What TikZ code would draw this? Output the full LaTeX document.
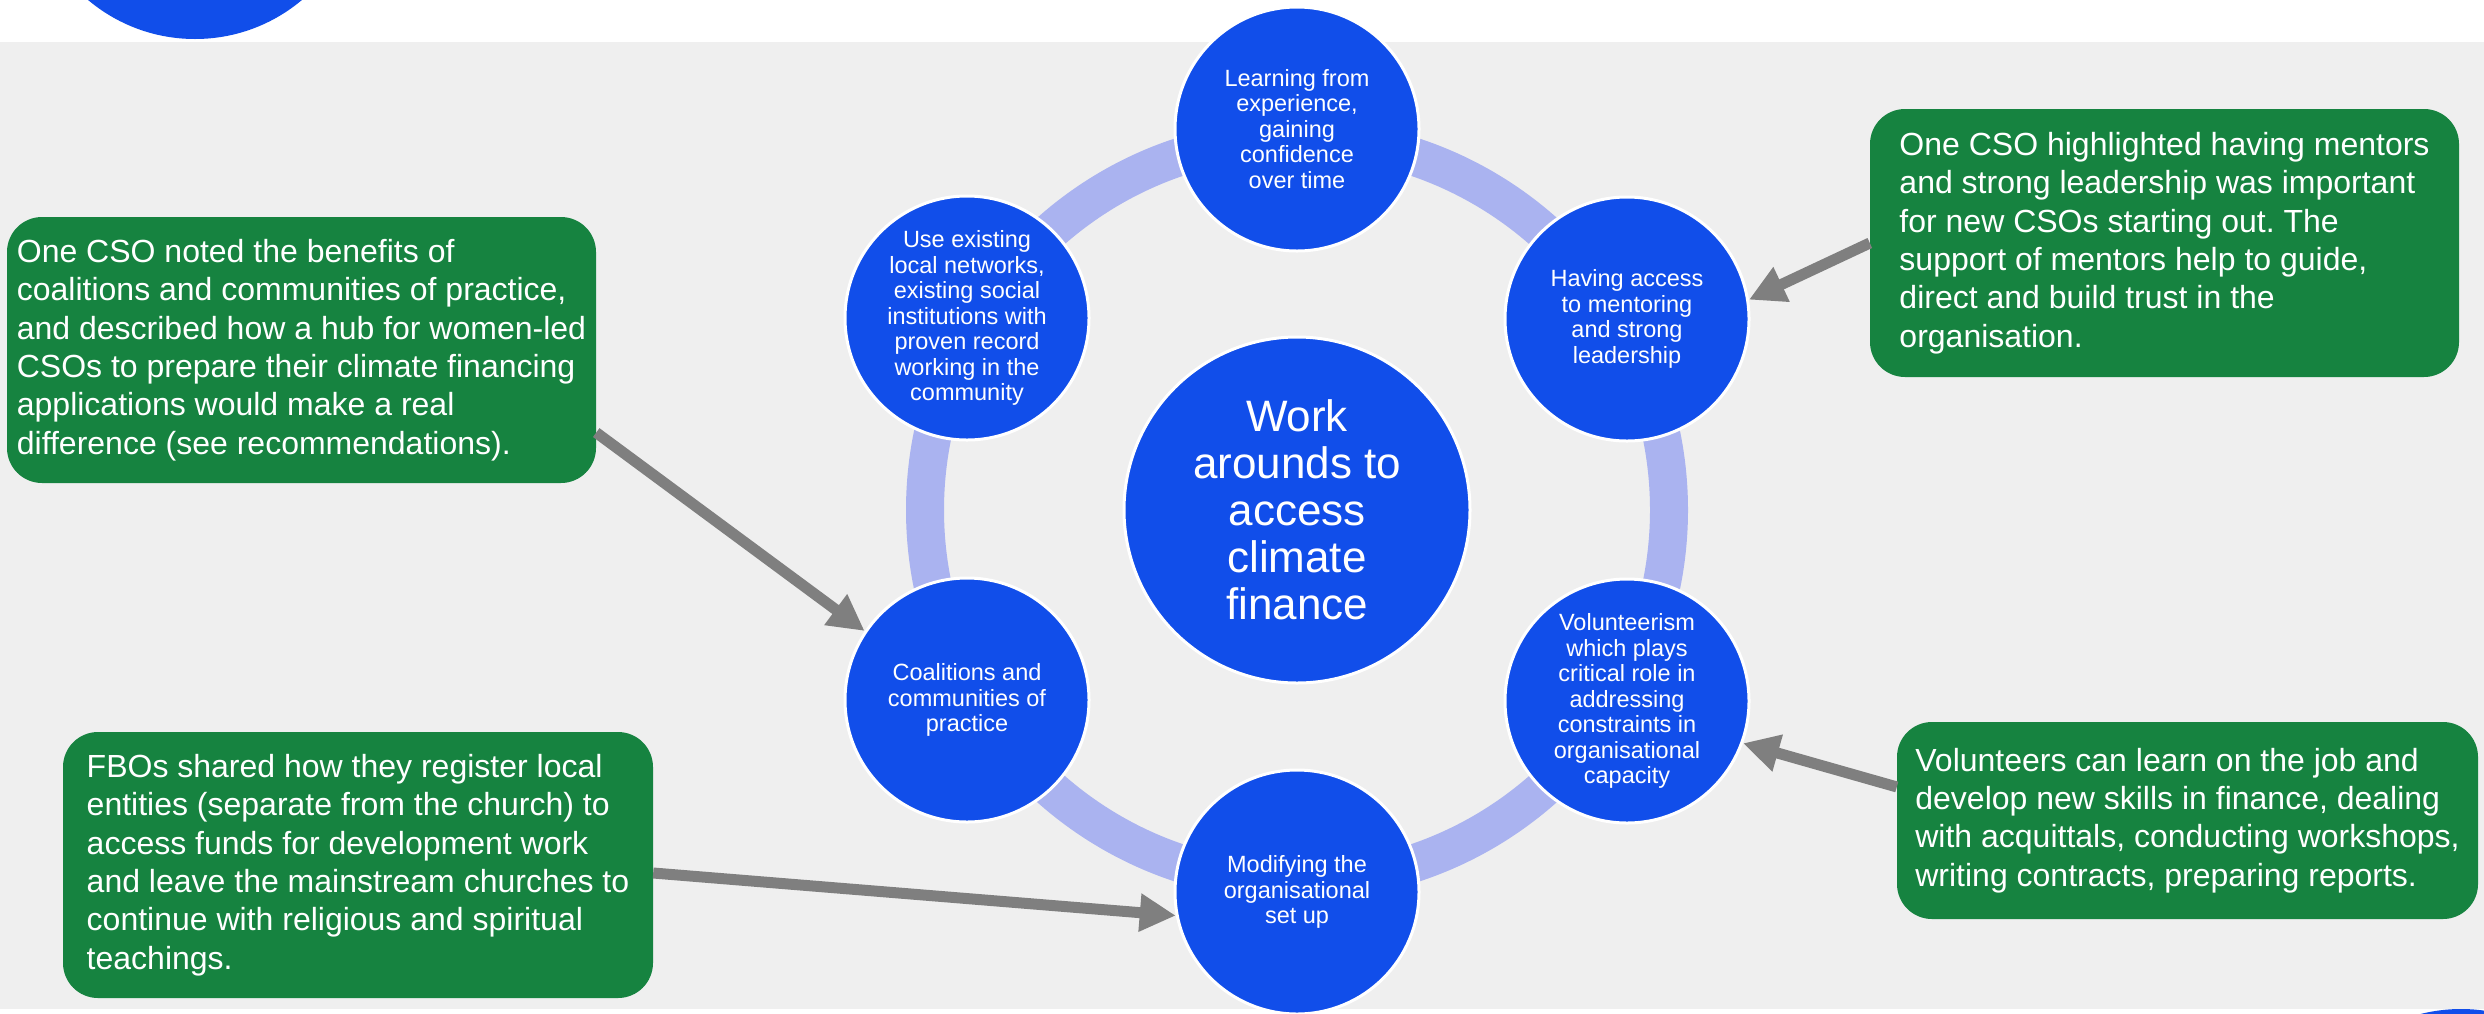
\documentclass[tikz,border=0pt]{standalone}
\usepackage{fontspec}
\setmainfont{Liberation Sans}
\usetikzlibrary{arrows.meta,calc}
\definecolor{cblue}{RGB}{17,78,234}
\definecolor{cgreen}{RGB}{22,131,64}
\definecolor{cring}{RGB}{170,179,240}
\definecolor{cband}{RGB}{239,239,239}
\definecolor{carrow}{RGB}{127,127,127}
\frenchspacing
\begin{document}
\begin{tikzpicture}[x=1pt,y=-1pt,
  spoke/.style={circle, fill=cblue, draw=white, line width=3pt, minimum size=244pt, inner sep=0pt, text=white, align=center, font=\fontsize{23.5}{25.5}\selectfont},
  hub/.style={spoke, minimum size=346pt, font=\fontsize{44}{47}\selectfont},
  note/.style={rectangle, rounded corners=35pt, fill=cgreen, inner sep=0pt, text=white, align=left, font=\fontsize{32}{38.4}\selectfont},
  pointer/.style={draw=carrow, line width=11pt, -{Triangle[length=36pt,width=36pt]}}]
\useasboundingbox (0,0) rectangle (2484,1013);
\clip (0,0) rectangle (2484,1013);
\fill[white] (0,0) rectangle (2484,1013);
\fill[cblue] (195,-127) circle[radius=166pt];
\fill[cblue] (2461,1175) circle[radius=166pt];
\fill[cband] (0,42) rectangle (2484,1009);
\coordinate (C) at (1297,510);
\draw[cring, line width=38pt] (C) circle[radius=372pt];
\node[hub] (hub) at (C) {Work\\arounds to\\access\\climate\\finance};
\node[spoke] (learn) at (1297,129) {Learning from\\experience,\\gaining\\confidence\\over time};
\node[spoke] (mentor) at (1627,319) {Having access\\to mentoring\\and strong\\leadership};
\node[spoke] (vol) at (1627,701) {Volunteerism\\which plays\\critical role in\\addressing\\constraints in\\organisational\\capacity};
\node[spoke] (mod) at (1297,892) {Modifying the\\organisational\\set up};
\node[spoke] (coal) at (967,700) {Coalitions and\\communities of\\practice};
\node[spoke] (use) at (967,318) {Use existing\\local networks,\\existing social\\institutions with\\proven record\\working in the\\community};
\node[note, minimum width=589pt, minimum height=266pt] (box1) at (301.5,350) {One CSO noted the benefits of\\coalitions and communities of practice,\\and described how a hub for women-led\\CSOs to prepare their climate financing\\applications would make a real\\difference (see recommendations).};
\node[note, minimum width=589pt, minimum height=268pt] (box2) at (2164.5,243) {One CSO highlighted having mentors\\and strong leadership was important\\for new CSOs starting out. The\\support of mentors help to guide,\\direct and build trust in the\\organisation.};
\node[note, minimum width=581pt, minimum height=197pt] (box3) at (2187.5,820.5) {Volunteers can learn on the job and\\develop new skills in finance, dealing\\with acquittals, conducting workshops,\\writing contracts, preparing reports.};
\node[note, minimum width=590pt, minimum height=266pt] (box4) at (358,865) {FBOs shared how they register local\\entities (separate from the church) to\\access funds for development work\\and leave the mainstream churches to\\continue with religious and spiritual\\teachings.};
\draw[pointer] ($(box1.north east)!0.81!(box1.south east)$) -- (coal.146);
\draw[pointer] ($(box4.north east)!0.53!(box4.south east)$) -- (mod.191);
\draw[pointer] (box2.west) -- (mentor.9);
\draw[pointer] ($(box3.north west)!0.33!(box3.south west)$) -- (vol.-20);
\end{tikzpicture}
\end{document}
